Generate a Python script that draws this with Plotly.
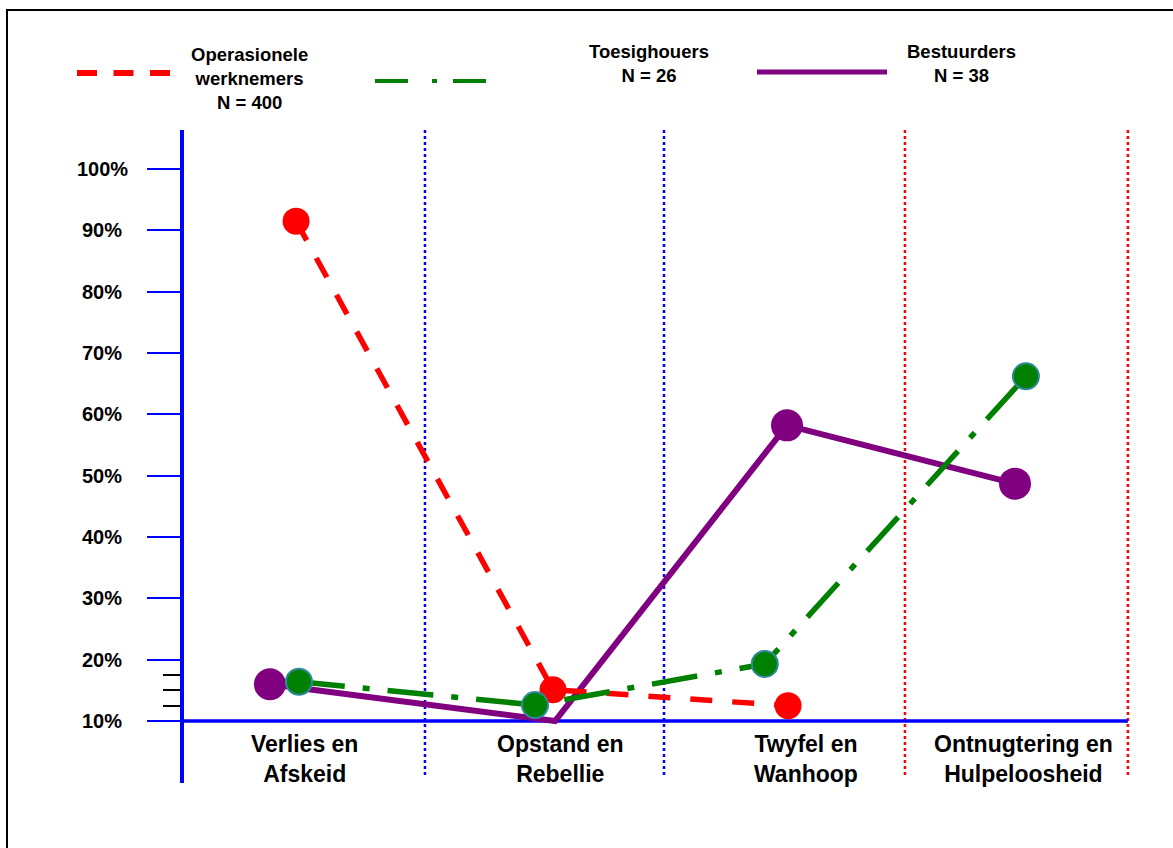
import plotly.graph_objects as go

# ---------------- data ----------------
categories = ["Verlies en<br>Afskeid", "Opstand en<br>Rebellie", "Twyfel en<br>Wanhoop",
              "Ontnugtering en<br>Hulpeloosheid"]
y_ticks = [10, 20, 30, 40, 50, 60, 70, 80, 90, 100]
y_ticktext = ["10%", "20%", "30%", "40%", "50%", "60%", "70%", "80%", "90%", "100%"]
minor_ticks = [12.5, 15, 17.5]

operasionele_idx = [0, 1, 2]
operasionele_val = [91.5, 15.1, 12.5]
toesighouers_idx = [0, 1, 2, 3]
toesighouers_val = [16.4, 12.6, 19.3, 66.2]
bestuurders_idx = [0, 1, 2, 3]
bestuurders_val = [16.0, 10.0, 58.2, 48.7]

legend_texts = ["Operasionele<br>werknemers<br>N = 400", "Toesighouers<br>N = 26", "Bestuurders<br>N = 38"]

# ---------------- layout geometry ----------------
W, H = 1173, 848
ML, MR, MT, MB = 184, 29, 130, 65
PW, PH = W - ML - MR, H - MT - MB
Y0, Y1 = -0.11, 106.36

# small within-category offsets of the hand-placed markers (category units)
off_oper = [-0.033, 0.0375, 0.017]
off_toes = [-0.021, -0.0375, -0.08, 0.008]
off_best = [-0.142, 0.046, 0.0125, -0.0375]
label_off = [0.0, 0.067, 0.092, -0.004]


def px(xpix):
    return (xpix - ML) / PW


def py(ypix):
    return (H - MB - ypix) / PH


def xs(idx, off):
    return [i + 0.5 + o for i, o in zip(idx, off)]


FONT = "Liberation Sans, Arial, sans-serif"
RED, GREEN, PURPLE, BLUE = "#ff0000", "#008000", "#800080", "#0000ff"

fig = go.Figure()

fig.add_trace(go.Scatter(
    x=xs(bestuurders_idx, off_best), y=bestuurders_val, mode="lines+markers",
    line=dict(color=PURPLE, width=6),
    marker=dict(color=PURPLE, size=[32, 0, 32, 32], opacity=1, line=dict(width=0)),
    cliponaxis=False, showlegend=False, name="Bestuurders"))

fig.add_trace(go.Scatter(
    x=xs(operasionele_idx, off_oper), y=operasionele_val, mode="lines+markers",
    line=dict(color=RED, width=5.5, dash="22px,20px"),
    marker=dict(color=RED, size=27, opacity=1, line=dict(width=0)),
    cliponaxis=False, showlegend=False, name="Operasionele werknemers"))

fig.add_trace(go.Scatter(
    x=xs(toesighouers_idx, off_toes), y=toesighouers_val, mode="lines+markers",
    line=dict(color=GREEN, width=5.5, dash="46px,18px,7px,18px"),
    marker=dict(color=GREEN, size=26, opacity=1, line=dict(width=2, color="#2e8a99")),
    cliponaxis=False, showlegend=False, name="Toesighouers"))

shapes = []
# category separators (dotted)
for xb, col in [(1.004, BLUE), (2.0, BLUE), (3.004, RED), (3.933, RED)]:
    shapes.append(dict(type="line", xref="x", yref="y", x0=xb, x1=xb, y0=1.2, y1=Y1,
                       line=dict(color=col, width=2.5, dash="dot"), layer="below"))
# x axis line at 10%
shapes.append(dict(type="line", xref="x", yref="y", x0=0, x1=3.933, y0=10, y1=10,
                   line=dict(color=BLUE, width=3.5), layer="below"))
# outer frame
shapes.append(dict(type="rect", xref="paper", yref="paper", x0=px(7), x1=px(1190),
                   y0=py(870), y1=py(10), line=dict(color="black", width=2)))
# legend line samples
shapes.append(dict(type="line", xref="paper", yref="paper", x0=px(77), x1=px(170),
                   y0=py(73), y1=py(73), line=dict(color=RED, width=6, dash="20px,16.5px")))
shapes.append(dict(type="line", xref="paper", yref="paper", x0=px(375), x1=px(495),
                   y0=py(81), y1=py(81), line=dict(color=GREEN, width=4, dash="33px,24px,5px,16px")))
shapes.append(dict(type="line", xref="paper", yref="paper", x0=px(757), x1=px(887),
                   y0=py(72), y1=py(72), line=dict(color=PURPLE, width=5)))

annotations = []
# y tick labels
for v, t in zip(y_ticks, y_ticktext):
    annotations.append(dict(xref="paper", yref="y", x=px(102), y=v, text=t, showarrow=False,
                            xanchor="center", yanchor="middle",
                            font=dict(family=FONT, size=20, color="black", weight="bold")))
# category labels
for i, (c, o) in enumerate(zip(categories, label_off)):
    annotations.append(dict(xref="x", yref="paper", x=i + 0.5 + o, y=py(759), text=c,
                            showarrow=False, xanchor="center", yanchor="middle",
                            font=dict(family=FONT, size=23, color="black", weight="bold")))
# legend texts
for (cx, cy), t in zip([(249, 79), (649, 64), (961, 64)], legend_texts):
    annotations.append(dict(xref="paper", yref="paper", x=px(cx), y=py(cy), text=t,
                            showarrow=False, xanchor="center", yanchor="middle",
                            font=dict(family=FONT, size=18.5, color="black", weight="bold")))

fig.update_layout(
    width=W, height=H,
    margin=dict(l=ML, r=MR, t=MT, b=MB),
    paper_bgcolor="white", plot_bgcolor="white",
    xaxis=dict(range=[0, 4], visible=False, fixedrange=True),
    yaxis=dict(range=[Y0, Y1], showgrid=False, zeroline=False,
               showline=True, linecolor=BLUE, linewidth=4,
               tickmode="array", tickvals=y_ticks, showticklabels=False,
               ticks="outside", ticklen=33, tickwidth=2, tickcolor=BLUE,
               minor=dict(tickmode="array", tickvals=minor_ticks, ticks="outside",
                          ticklen=17, tickwidth=1.5, tickcolor="black", showgrid=False),
               fixedrange=True),
    shapes=shapes, annotations=annotations,
    showlegend=False,
)

fig.write_html("out.html")
